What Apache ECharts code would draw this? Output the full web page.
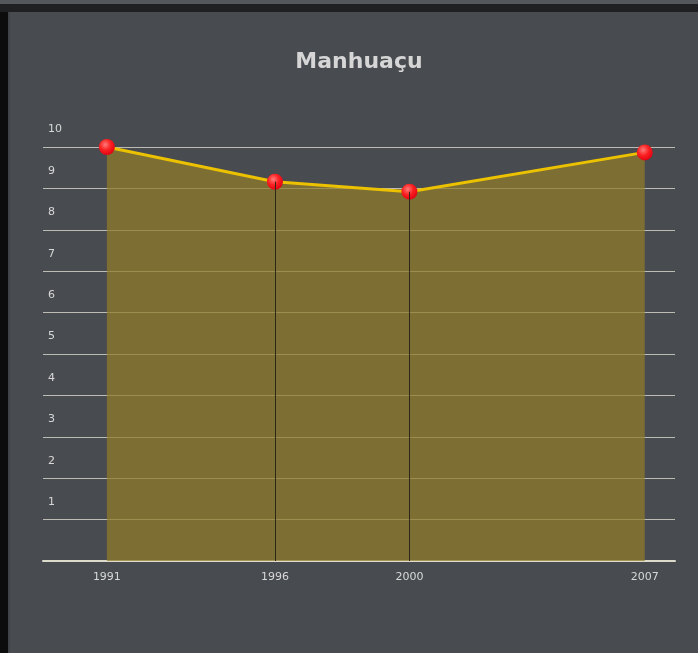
<!DOCTYPE html>
<html lang="en">
<head>
    <meta charset="UTF-8">
    <script src="https://cdn.jsdelivr.net/npm/echarts@6/dist/echarts.min.js"></script>
    <title>Manhuaçu</title>
    <style>
        html, body { margin: 0; padding: 0; width: 698px; height: 653px; background: #0c0c0c; overflow: hidden; }
        #strip { position: absolute; left: 0; top: 0; width: 698px; height: 4px; background: #54575b; }
        #band { position: absolute; left: 0; top: 4px; width: 698px; height: 8px; background: #1e2022; }
        #panel { position: absolute; left: 8px; top: 12px; width: 690px; height: 641px; background: #484b4f; border-left: 2px solid #404347; box-sizing: border-box; }
        #main { position: absolute; left: 20px; top: 0; width: 678px; height: 653px; }
    </style>
</head>
<body>
    <div id="strip"></div>
    <div id="band"></div>
    <div id="panel"></div>
    <div id="main"></div>

    <script type="text/javascript">
        // data
        var years = [1991, 1996, 2000, 2007];
        var values = [10.0, 9.16, 8.92, 9.87];
        var yTicks = [1, 2, 3, 4, 5, 6, 7, 8, 9, 10];

        var points = years.map(function (y, i) { return [y, values[i]]; });

        // drop lines from the inner points down to the axis
        var drops = [];
        for (var i = 1; i < years.length - 1; i++) {
            drops.push([{ coord: [years[i], values[i]] }, { coord: [years[i], 0] }]);
        }

        var myChart = echarts.init(document.getElementById('main'));

        var option = {
            animation: false,
            backgroundColor: 'transparent',
            title: {
                text: 'Manhuaçu',
                left: 'center',
                top: 46,
                textStyle: {
                    color: '#d6d6d6',
                    fontFamily: 'DejaVu Sans',
                    fontWeight: 'bold',
                    fontSize: 22
                }
            },
            grid: {
                left: 23,
                right: 23,
                top: 147,
                bottom: 92
            },
            xAxis: {
                type: 'value',
                min: 1989.1,
                max: 2007.9,
                axisLine: { show: true, lineStyle: { color: '#dcdccc', width: 2 } },
                axisTick: { show: false },
                splitLine: { show: false },
                axisLabel: {
                    customValues: years,
                    color: '#d8d8d8',
                    fontFamily: 'DejaVu Sans',
                    fontSize: 11,
                    margin: 11,
                    formatter: function (v) { return String(v); }
                }
            },
            yAxis: {
                type: 'value',
                min: 0,
                max: 10,
                interval: 1,
                axisLine: { show: false },
                axisTick: { show: false },
                splitLine: { lineStyle: { color: '#bcbcb4', width: 1 } },
                axisLabel: {
                    inside: true,
                    margin: 5,
                    align: 'left',
                    verticalAlign: 'bottom',
                    padding: [0, 0, 12, 0],
                    color: '#d8d8d8',
                    fontFamily: 'DejaVu Sans',
                    fontSize: 11,
                    formatter: function (v) {
                        return yTicks.indexOf(v) >= 0 ? String(v) : '';
                    }
                }
            },
            series: [{
                type: 'line',
                data: points,
                symbol: 'circle',
                symbolSize: 16,
                itemStyle: {
                    color: new echarts.graphic.RadialGradient(0.4, 0.35, 0.7, [
                        { offset: 0, color: '#ff7a7a' },
                        { offset: 0.5, color: '#fa2020' },
                        { offset: 1, color: '#dc0012' }
                    ])
                },
                lineStyle: { color: '#ecc200', width: 3 },
                areaStyle: { color: 'rgba(145,125,42,0.72)', opacity: 1 },
                markLine: {
                    silent: true,
                    symbol: 'none',
                    label: { show: false },
                    lineStyle: { color: '#2b281a', width: 1, type: 'solid' },
                    data: drops
                },
                z: 3
            }]
        };

        myChart.setOption(option);
    </script>
</body>
</html>
